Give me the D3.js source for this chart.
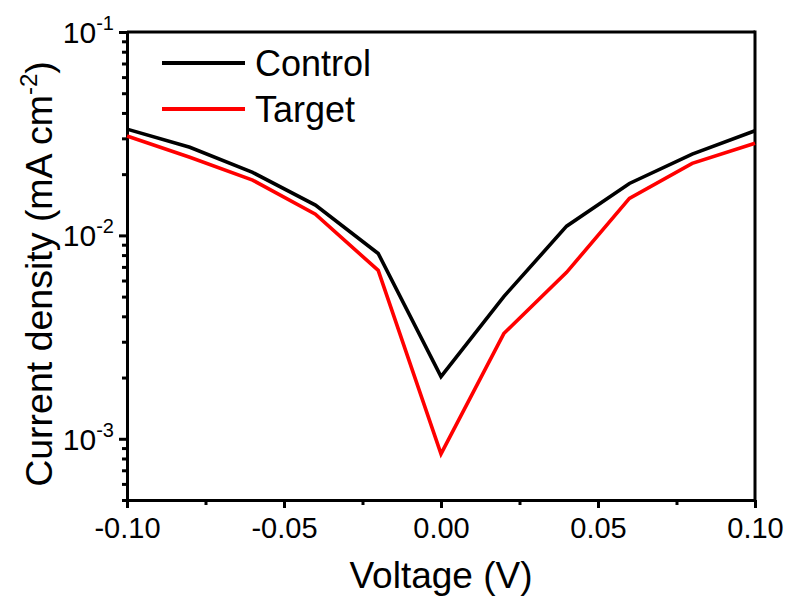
<!DOCTYPE html>
<html>
<head>
<meta charset="utf-8">
<script src="https://cdn.jsdelivr.net/npm/d3@7"></script>
<style>
  html, body { margin: 0; padding: 0; background: #fff; }
  svg { display: block; font-family: Arial, "Liberation Sans", sans-serif; }
</style>
</head>
<body>
<svg id="chart" width="792" height="601"></svg>
<script>
// Voltage sweep (V)
const voltage = [-0.10, -0.08, -0.06, -0.04, -0.02, 0.00, 0.02, 0.04, 0.06, 0.08, 0.10];
// Dark current density (mA cm^-2)
const controlJ = [0.0333, 0.0271, 0.0204, 0.0141, 0.00815, 0.00202, 0.0050, 0.0111, 0.0180, 0.0251, 0.0327];
const targetJ  = [0.0308, 0.0242, 0.0187, 0.0127, 0.00673, 0.000843, 0.00329, 0.00658, 0.0152, 0.0226, 0.0284];
const seriesNames = ["Control", "Target"];
const seriesColors = ["#000000", "#ff0000"];
const xTicks = [-0.10, -0.05, 0.00, 0.05, 0.10];
const xMinorTicks = [-0.075, -0.025, 0.025, 0.075];
const yTicks = [1e-3, 1e-2, 1e-1];

const svg = d3.select("#chart");
const m = { left: 127, right: 755, top: 32, bottom: 500 };

const x = d3.scaleLinear().domain([-0.10, 0.10]).range([m.left, m.right]);
const y = d3.scaleLog().domain([5e-4, 0.1]).range([m.bottom, m.top]);

// minor log ticks: 2..9 within each decade
const yMinor = [];
[1e-4, 1e-3, 1e-2].forEach(d => {
  for (let k = 2; k <= 9; k++) {
    const v = d * k;
    if (v >= 5e-4 && v <= 0.1) yMinor.push(v);
  }
});

const axisW = 3;

// X axis
const gx = svg.append("g").attr("transform", `translate(0,${m.bottom})`);
gx.call(d3.axisBottom(x).tickValues(xTicks).tickSize(8).tickSizeOuter(0)
  .tickFormat(d => d3.format(".2f")(d).replace("−", "-")));
gx.append("g").call(d3.axisBottom(x).tickValues(xMinorTicks).tickSize(5).tickFormat(""))
  .select(".domain").remove();
gx.selectAll("line").attr("stroke", "#000").attr("stroke-width", axisW);
gx.selectAll(".domain").attr("stroke", "#000").attr("stroke-width", axisW);
gx.selectAll("text").attr("font-size", 29).attr("fill", "#000")
  .attr("font-family", "Arial, 'Liberation Sans', sans-serif").attr("dy", "0").attr("y", 38);

// Y axis
const gy = svg.append("g").attr("transform", `translate(${m.left},0)`);
gy.call(d3.axisLeft(y).tickValues(yTicks).tickSize(8).tickSizeOuter(0).tickFormat(""));
gy.append("g").call(d3.axisLeft(y).tickValues(yMinor).tickSize(5).tickFormat(""))
  .select(".domain").remove();
gy.selectAll("line").attr("stroke", "#000").attr("stroke-width", axisW);
gy.selectAll(".domain").attr("stroke", "#000").attr("stroke-width", axisW);

// power-of-ten labels
yTicks.forEach(v => {
  const e = Math.round(Math.log10(v));
  const t = svg.append("text")
    .attr("x", 114).attr("y", y(v) + 11)
    .attr("text-anchor", "end")
    .attr("font-size", 30).attr("fill", "#000");
  t.append("tspan").text("10");
  t.append("tspan").attr("font-size", 20).attr("dy", -13).text(String(e));
});

// Frame (top and right)
svg.append("line").attr("x1", m.left).attr("x2", m.right).attr("y1", m.top).attr("y2", m.top)
  .attr("stroke", "#000").attr("stroke-width", axisW);
svg.append("line").attr("x1", m.right).attr("x2", m.right).attr("y1", m.top - 1.5).attr("y2", m.bottom + 1.5)
  .attr("stroke", "#000").attr("stroke-width", axisW);

// Curves
const line = d3.line().x(d => x(d[0])).y(d => y(d[1]));
const seriesData = [controlJ, targetJ];
seriesData.forEach((vals, i) => {
  svg.append("path")
    .datum(voltage.map((v, j) => [v, vals[j]]))
    .attr("d", line)
    .attr("fill", "none")
    .attr("stroke", seriesColors[i])
    .attr("stroke-width", 3.6)
    .attr("stroke-linejoin", "miter");
});

// Legend
const legY = [63, 109];
seriesNames.forEach((name, i) => {
  svg.append("line").attr("x1", 162).attr("x2", 245).attr("y1", legY[i]).attr("y2", legY[i])
    .attr("stroke", seriesColors[i]).attr("stroke-width", 4);
  svg.append("text").attr("x", 255).attr("y", legY[i] + 13)
    .attr("font-size", 36).attr("fill", "#000").text(name);
});

// Axis titles
svg.append("text").attr("x", (m.left + m.right) / 2).attr("y", 588)
  .attr("text-anchor", "middle").attr("font-size", 37).attr("fill", "#000")
  .text("Voltage (V)");

const yt = svg.append("text")
  .attr("transform", `translate(52,274) rotate(-90)`)
  .attr("text-anchor", "middle").attr("font-size", 37.5).attr("fill", "#000");
yt.append("tspan").text("Current density (mA cm");
yt.append("tspan").attr("font-size", 24).attr("dy", -15).text("-2");
yt.append("tspan").attr("dy", 15).text(")");
</script>
</body>
</html>
